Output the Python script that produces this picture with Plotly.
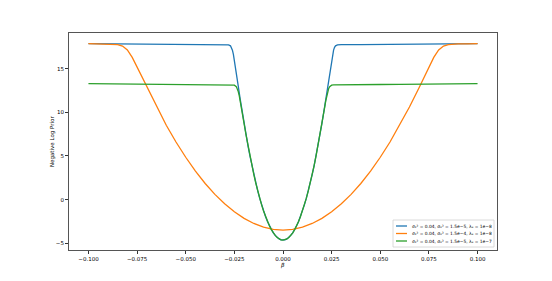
import plotly.graph_objects as go

# ---- data ----
beta_a = [-0.1, -0.09, -0.08, -0.07, -0.06, -0.05, -0.04, -0.03, -0.028, -0.027, -0.0265, -0.026,
          -0.0255, -0.025, -0.0245, -0.024, -0.023, -0.022, -0.021, -0.02, -0.019, -0.018, -0.017,
          -0.016, -0.015, -0.014, -0.013, -0.012, -0.011, -0.01, -0.009, -0.008, -0.007, -0.006,
          -0.005, -0.004, -0.003, -0.002, -0.001, 0.0,
          0.001, 0.002, 0.003, 0.004, 0.005, 0.006, 0.007, 0.008, 0.009, 0.01, 0.011, 0.012, 0.013,
          0.014, 0.015, 0.016, 0.017, 0.018, 0.019, 0.02, 0.021, 0.022, 0.023, 0.024, 0.0245, 0.025,
          0.0255, 0.026, 0.0265, 0.027, 0.028, 0.03, 0.04, 0.05, 0.06, 0.07, 0.08, 0.09, 0.1]
prior_a = [17.855, 17.83, 17.81, 17.79, 17.775, 17.76, 17.75, 17.74, 17.72, 17.61, 17.44, 17.12,
           16.64, 16.00, 15.28, 14.52, 12.99, 11.50, 10.065, 8.70, 7.40, 6.165, 5.00,
           3.90, 2.865, 1.90, 1.00, 0.165, -0.60, -1.30, -1.935, -2.50, -3.00, -3.435,
           -3.80, -4.10, -4.335, -4.50, -4.60, -4.635,
           -4.60, -4.50, -4.335, -4.10, -3.80, -3.435, -3.00, -2.50, -1.935, -1.30, -0.60, 0.165, 1.00,
           1.90, 2.865, 3.90, 5.00, 6.165, 7.40, 8.70, 10.065, 11.50, 12.99, 14.52, 15.28, 16.00,
           16.64, 17.12, 17.44, 17.61, 17.72, 17.74, 17.75, 17.76, 17.775, 17.79, 17.81, 17.83, 17.855]

beta_b = [-0.1, -0.095, -0.09, -0.0875, -0.085, -0.0825, -0.08, -0.0775, -0.075, -0.0725, -0.07,
          -0.065, -0.06, -0.055, -0.05, -0.045, -0.04, -0.035, -0.03, -0.025, -0.02, -0.015, -0.01,
          -0.005, 0.0, 0.005, 0.01, 0.015, 0.02, 0.025, 0.03, 0.035, 0.04, 0.045, 0.05, 0.055, 0.06,
          0.065, 0.07, 0.0725, 0.075, 0.0775, 0.08, 0.0825, 0.085, 0.0875, 0.09, 0.095, 0.1]
prior_b = [17.855, 17.84, 17.83, 17.81, 17.76, 17.59, 17.14, 16.29, 15.19, 14.02, 12.84,
           10.60, 8.517, 6.60, 4.85, 3.267, 1.85, 0.60, -0.483, -1.40, -2.15, -2.733, -3.15,
           -3.40, -3.483, -3.40, -3.15, -2.733, -2.15, -1.40, -0.483, 0.60, 1.85, 3.267, 4.85, 6.60, 8.517,
           10.60, 12.84, 14.02, 15.19, 16.29, 17.14, 17.59, 17.76, 17.81, 17.83, 17.84, 17.855]

beta_c = [-0.1, -0.09, -0.08, -0.07, -0.06, -0.05, -0.04, -0.03, -0.028, -0.026, -0.025, -0.024,
          -0.0235, -0.023, -0.0225, -0.022, -0.0215, -0.021, -0.02, -0.019, -0.018, -0.017, -0.016,
          -0.015, -0.014, -0.013, -0.012, -0.011, -0.01, -0.009, -0.008, -0.007, -0.006, -0.005,
          -0.004, -0.003, -0.002, -0.001, 0.0,
          0.001, 0.002, 0.003, 0.004, 0.005, 0.006, 0.007, 0.008, 0.009, 0.01, 0.011, 0.012, 0.013,
          0.014, 0.015, 0.016, 0.017, 0.018, 0.019, 0.02, 0.021, 0.0215, 0.022, 0.0225, 0.023, 0.0235,
          0.024, 0.025, 0.026, 0.028, 0.03, 0.04, 0.05, 0.06, 0.07, 0.08, 0.09, 0.1]
prior_c = [13.275, 13.25, 13.23, 13.21, 13.195, 13.18, 13.17, 13.16, 13.16, 13.15, 13.11, 12.94,
           12.73, 12.38, 11.905, 11.33, 10.685, 10.02, 8.69, 7.40, 6.165, 5.00, 3.90,
           2.865, 1.90, 1.00, 0.165, -0.60, -1.30, -1.935, -2.50, -3.00, -3.435, -3.80,
           -4.10, -4.335, -4.50, -4.60, -4.635,
           -4.60, -4.50, -4.335, -4.10, -3.80, -3.435, -3.00, -2.50, -1.935, -1.30, -0.60, 0.165, 1.00,
           1.90, 2.865, 3.90, 5.00, 6.165, 7.40, 8.69, 10.02, 10.685, 11.33, 11.905, 12.38, 12.73,
           12.94, 13.11, 13.15, 13.16, 13.16, 13.17, 13.18, 13.195, 13.21, 13.23, 13.25, 13.275]

labels = ["σ₁² = 0.04, σ₀² = 1.5e−5, λₛ = 1e−8",
          "σ₁² = 0.04, σ₀² = 1.5e−4, λₛ = 1e−8",
          "σ₁² = 0.04, σ₀² = 1.5e−5, λₛ = 1e−7"]
colors = ["#1f77b4", "#ff7f0e", "#2ca02c"]
x_ticks = [-0.1, -0.075, -0.05, -0.025, 0.0, 0.025, 0.05, 0.075, 0.1]
y_ticks = [-5, 0, 5, 10, 15]

FONT = "DejaVu Sans"
fig = go.Figure()
for xs, ys, lab, col in zip([beta_a, beta_b, beta_c], [prior_a, prior_b, prior_c], labels, colors):
    fig.add_trace(go.Scatter(x=xs, y=ys, mode="lines", name=lab,
                             line=dict(color=col, width=1.3), showlegend=False))

# page offset of the plotly div inside the browser body
OFF = 8
W, H = 552 - OFF, 281 - OFF
# plot area in window pixels (as in reference)
L, R, T, B = 69, 497, 33, 250
def px(xp): return (xp - L) / (R - L)
def py(yp): return (B - yp) / (B - T)

shapes = [dict(type="rect", xref="paper", yref="paper", x0=px(393), x1=px(494), y0=py(247), y1=py(220),
               line=dict(color="#d0d0d0", width=0.8), fillcolor="rgba(255,255,255,0.85)", layer="above")]
annotations = []
rows = [226, 233.5, 241]
for lab, col, r in zip(labels, colors, rows):
    shapes.append(dict(type="line", xref="paper", yref="paper", x0=px(396), x1=px(407), y0=py(r), y1=py(r),
                       line=dict(color=col, width=1.3), layer="above"))
    annotations.append(dict(x=px(410), y=py(r), xref="paper", yref="paper", text=lab, showarrow=False,
                            xanchor="left", yanchor="middle", font=dict(family=FONT, size=4.4, color="black")))

annotations.append(dict(x=0.5, y=py(265), xref="paper", yref="paper", text="<i>β</i>", showarrow=False,
                        xanchor="center", yanchor="middle", font=dict(family=FONT, size=5.5, color="black")))
annotations.append(dict(x=px(52), y=py(142), xref="paper", yref="paper", text="Negative Log Prior",
                        showarrow=False, textangle=-90, xanchor="center", yanchor="middle",
                        font=dict(family=FONT, size=5.5, color="black")))

axis_common = dict(showline=True, linecolor="#555", linewidth=1, mirror=True, ticks="outside",
                   ticklen=3, tickwidth=0.8, tickcolor="#333", showgrid=False, zeroline=False,
                   tickfont=dict(family=FONT, size=5.5, color="black"))
fig.update_layout(
    width=W, height=H,
    margin=dict(l=L - OFF, r=552 - R, t=T - OFF, b=281 - B),
    paper_bgcolor="white", plot_bgcolor="white",
    shapes=shapes, annotations=annotations,
    xaxis=dict(range=[-0.11, 0.11], tickvals=x_ticks, tickformat=".3f", **axis_common),
    yaxis=dict(range=[-5.77, 19.08], tickvals=y_ticks, **axis_common),
    font=dict(family=FONT),
)
fig.write_html("out.html")
